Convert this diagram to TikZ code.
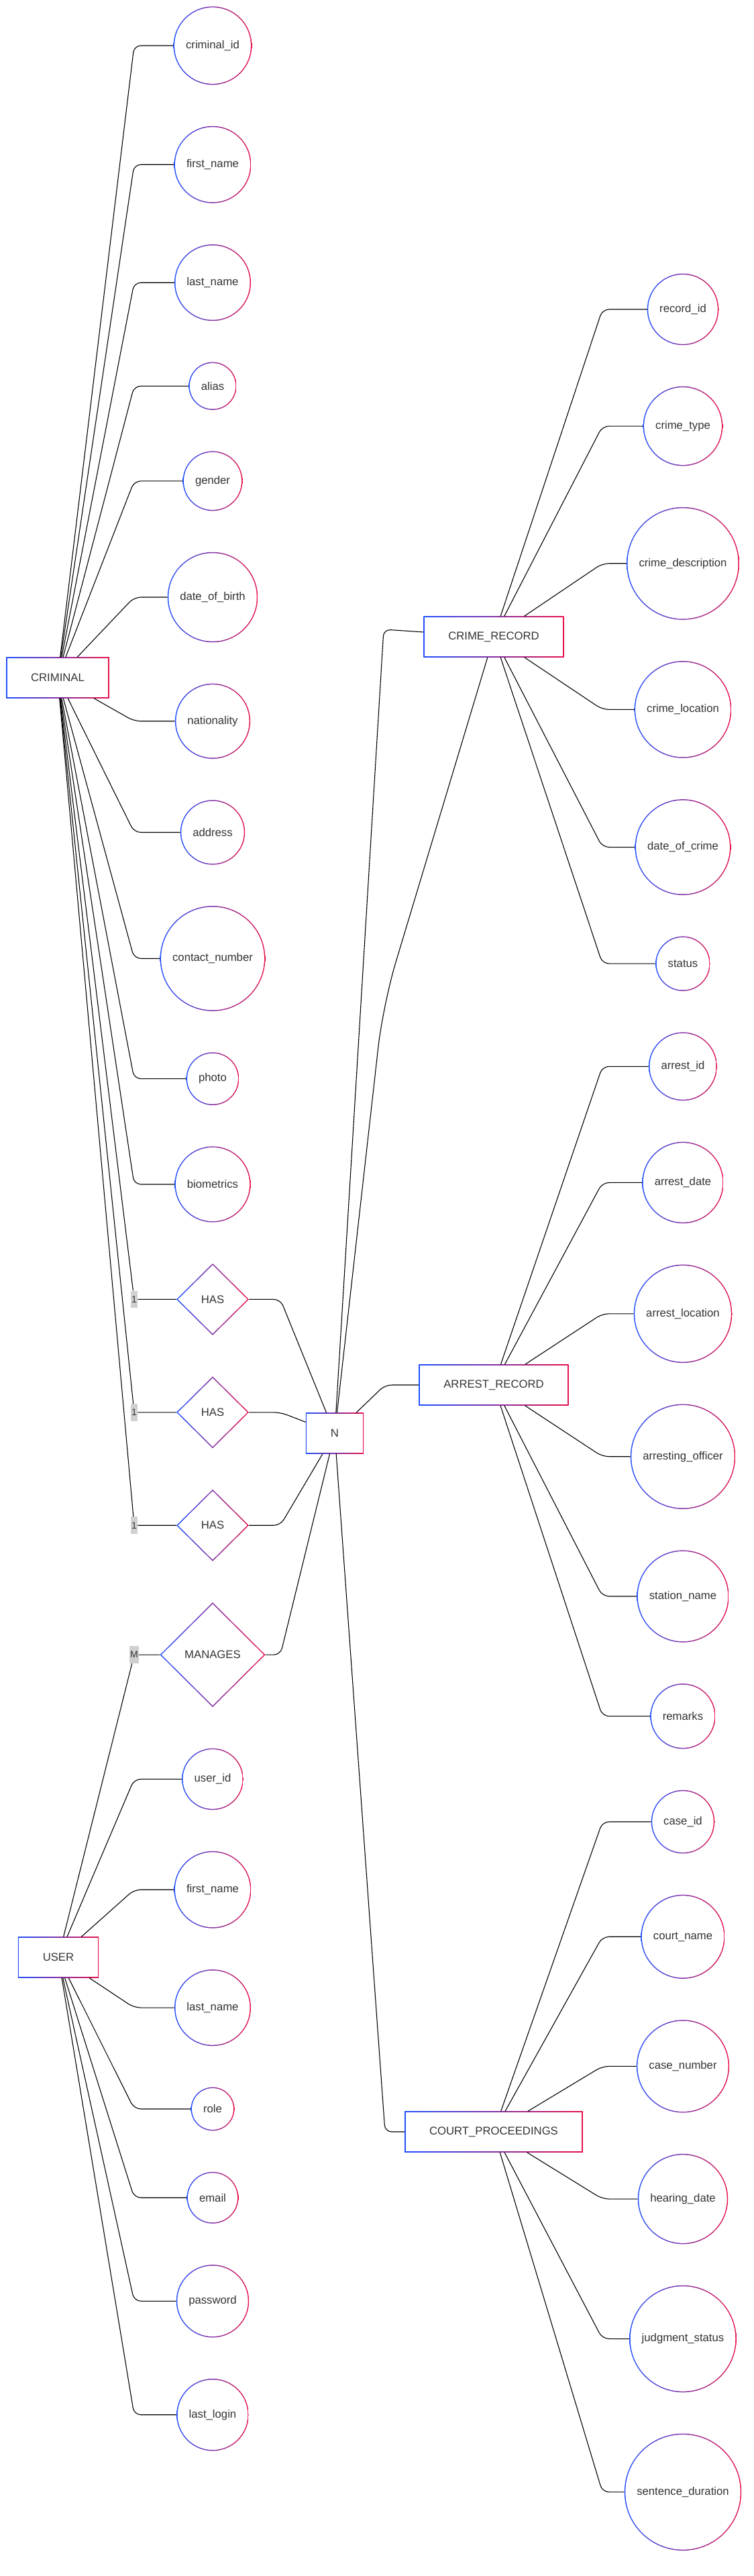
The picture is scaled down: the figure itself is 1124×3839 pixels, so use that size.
\documentclass[tikz,border=0pt]{standalone}
\usepackage{fontspec}
\setmainfont{Liberation Sans}
\usetikzlibrary{positioning,shapes.geometric,calc}
\definecolor{erblue}{HTML}{1F4FFF}
\definecolor{erred}{HTML}{E8114B}
\definecolor{ink}{HTML}{333333}
\definecolor{tagfill}{HTML}{D0D0D0}
\newcommand{\erfont}{\fontsize{16.7pt}{20pt}\selectfont}
\newcommand{\attrdiam}{0pt}
\tikzset{
gradfill/.style={left color=erblue,right color=erred},
gradbox/.style={path picture={
\shade[gradfill] (path picture bounding box.south west) rectangle (path picture bounding box.north east);
\fill[white] ([shift={(1.5pt,1.5pt)}]path picture bounding box.south west) rectangle ([shift={(-1.5pt,-1.5pt)}]path picture bounding box.north east);}},
gradround/.style={path picture={
\shade[gradfill] (path picture bounding box.south west) rectangle (path picture bounding box.north east);
\fill[white] let \p1=(path picture bounding box.center),\p2=(path picture bounding box.east) in (\p1) circle[radius=\x2-\x1-1.5pt];}},
graddiamond/.style={path picture={
\shade[gradfill] (path picture bounding box.south west) rectangle (path picture bounding box.north east);
\fill[white] let \p1=(path picture bounding box.center),\p2=(path picture bounding box.north east) in
(\x2-2.2pt,\y1) -- (\x1,\y2-2.2pt) -- (2*\x1-\x2+2.2pt,\y1) -- (\x1,2*\y1-\y2+2.2pt) -- cycle;}},
entity/.style={rectangle,fill=white,gradbox,inner xsep=37pt,inner ysep=0pt,minimum height=61pt,font=\erfont,text=ink},
attr/.style={circle,fill=white,gradround,inner sep=0pt,font=\erfont,text=ink,
execute at begin node={\setbox0=\hbox{\erfont #1}\xdef\attrdiam{\the\dimexpr\wd0+37pt\relax}},
minimum size=\attrdiam},
rel/.style={diamond,fill=white,graddiamond,inner sep=0pt,font=\erfont,text=ink},
card/.style={fill=tagfill,inner xsep=1.2pt,inner ysep=0pt,minimum height=25.7pt,font=\fontsize{14pt}{16pt}\selectfont,text=ink},
link/.style={draw=black,line width=1.1pt,rounded corners=10pt}
}
\begin{document}
\begin{tikzpicture}[x=1pt,y=-1pt]
\path[fill=white,use as bounding box] (0,0) rectangle (1124,3839);
\coordinate (lc) at (200,0);
\coordinate (hc) at (418,0);
\coordinate (nc) at (574,0);
\coordinate (rc) at (898,0);
\coordinate (bendA) at (572,938);
\coordinate (bendB) at (571,1497);

\node[entity] (criminal) at (86,1010) {CRIMINAL};
\node[entity] (user) at (87,2917) {USER};
\node[entity] (nbox) at (499,2136) {N};
\node[entity] (crime) at (736,949) {CRIME\_RECORD};
\node[entity] (arrest) at (736,2064) {ARREST\_RECORD};
\node[entity] (court) at (736,3177) {COURT\_PROCEEDINGS};

\node[attr=criminal\_id] (cid) at (317,68) {criminal\_id};
\draw[link] (criminal) -- (lc |- cid) -- (cid);
\foreach \id/\txt [remember=\id as \prev (initially cid)] in {cfirst/first\_name,clast/last\_name,calias/alias,cgender/gender,cdob/date\_of\_birth,cnat/nationality,caddr/address,ccontact/contact\_number,cphoto/photo,cbio/biometrics}{
\node[attr=\txt,below=61pt of \prev] (\id) {\txt};
\draw[link] (criminal) -- (lc |- \id) -- (\id);
}

\node[rel,minimum width=108pt,minimum height=107pt,below=61pt of cbio] (hasA) {HAS};
\node[rel,minimum width=108pt,minimum height=107pt,below=61pt of hasA] (hasB) {HAS};
\node[rel,minimum width=108pt,minimum height=107pt,below=61pt of hasB] (hasC) {HAS};
\node[rel,minimum width=157pt,minimum height=156pt,below=61pt of hasC] (manages) {MANAGES};
\foreach \r in {hasA,hasB,hasC}{
\node[card] (one\r) at (lc |- \r) {1};
\draw[link] (criminal) -- (one\r) -- (\r);
\draw[link] (\r) -- (hc |- \r) -- (nbox);
}
\node[card] (many) at (lc |- manages) {M};
\draw[link] (user) -- (many) -- (manages);
\draw[link] (manages) -- (hc |- manages) -- (nbox);

\foreach \id/\txt [remember=\id as \prev (initially manages)] in {uid/user\_id,ufirst/first\_name,ulast/last\_name,urole/role,uemail/email,upass/password,ulogin/last\_login}{
\node[attr=\txt,below=61pt of \prev] (\id) {\txt};
\draw[link] (user) -- (lc |- \id) -- (\id);
}

\node[attr=record\_id] (rid) at (1018,461) {record\_id};
\draw[link] (crime) -- (rc |- rid) -- (rid);
\foreach \id/\txt/\ent [remember=\id as \prev (initially rid)] in {rtype/crime\_type/crime,rdesc/crime\_description/crime,rloc/crime\_location/crime,rdate/date\_of\_crime/crime,rstatus/status/crime,aid/arrest\_id/arrest,adate/arrest\_date/arrest,aloc/arrest\_location/arrest,aoff/arresting\_officer/arrest,astation/station\_name/arrest,aremarks/remarks/arrest,kid/case\_id/court,kcourt/court\_name/court,knum/case\_number/court,khear/hearing\_date/court,kjudge/judgment\_status/court,ksent/sentence\_duration/court}{
\node[attr=\txt,below=61pt of \prev] (\id) {\txt};
\draw[link] (\ent) -- (rc |- \id) -- (\id);
}

\draw[link] (nbox) -- (bendA) -- (crime);
\draw[link,rounded corners=65pt] (nbox) -- (bendB) -- (crime);
\draw[link] (nbox) -- (nc |- arrest) -- (arrest);
\draw[link] (nbox) -- (nc |- court) -- (court);
\end{tikzpicture}
\end{document}
